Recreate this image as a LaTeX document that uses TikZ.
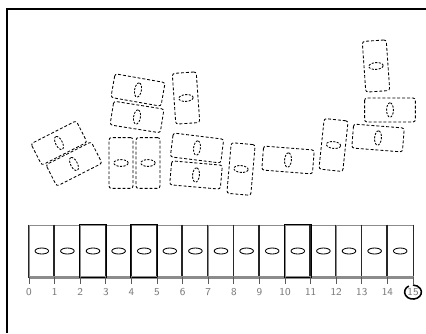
\documentclass[tikz,border=0pt]{standalone}
\usepackage{tikz}
\usetikzlibrary{shapes.geometric}
\definecolor{tilegray}{HTML}{8C8C8C}
\definecolor{numgray}{HTML}{7A7A7A}

\tikzset{
  dom/.style={draw, dash pattern=on 2.1pt off 1.4pt, rounded corners=0.6mm,
    minimum width=6mm, minimum height=12.7mm, inner sep=0pt, line width=0.6pt},
  doval/.style={ellipse, draw, dash pattern=on 1.5pt off 1pt,
    minimum width=3.6mm, minimum height=1.7mm, inner sep=0pt, line width=0.6pt},
  tile/.style={draw=tilegray, fill=white, minimum width=6.4mm, minimum height=13mm,
    inner sep=0pt, line width=0.7pt},
  oval/.style={ellipse, draw, minimum width=3.4mm, minimum height=1.5mm,
    inner sep=0pt, line width=0.6pt},
  num/.style={text=numgray, font=\fontsize{7.5}{8}\selectfont\sffamily, inner sep=0pt},
}

\begin{document}
\begin{tikzpicture}[x=0.25mm, y=-0.25mm]
  \useasboundingbox (0,0) rectangle (426,333);
  % frame
  \draw[line width=0.9pt] (7,333) -- (7,9) -- (426,9);

  % loose pieces
  \foreach \x/\y/\r/\n in {138/90/80/dA, 137/117/81/dB, 186/98/4/dC,
      59/143/117/dD, 74/164/117/dE, 121/163/0/dF, 148/163/0/dG,
      197/148/83/dH, 196/175/85/dI, 241/169/-5/dJ, 288/160/85.5/dK,
      333.5/145/-6/dL, 378/138/85.5/dM, 390/110/90/dN, 376/66/4/dO} {
    \node[dom, rotate=\r] (\n) at (\x,\y) {};
    \node[doval, rotate=\r] at (\n.center) {};
  }

  % row of tiles
  \foreach \i in {0,...,14} {
    \node[tile] (b\i) at ({41.8+25.6*\i},251) {};
    \node[oval] (o\i) at (b\i.center) {};
    \draw[black!85, line width=0.9pt] (b\i.north west) -- (b\i.south west);
  }
  \draw[black!85, line width=0.9pt] (b14.north east) -- (b14.south east);
  \draw[tilegray, line width=1.5pt] (b0.south west) -- (b14.south east);
  \foreach \i in {2,4,10}
    \draw[line width=0.6pt] (b\i.south west) rectangle (b\i.north east);

  % number line
  \foreach \i in {0,...,15} {
    \draw[black!65, line width=0.5pt] ({29+25.6*\i},277) -- ++(0,7);
    \node[num] (n\i) at ({29+25.6*\i},292) {\i};
  }
  \draw[line width=1.1pt] ([xshift=-1.05mm, yshift=1.5mm]n15.center)
    arc[start angle=120, end angle=450, x radius=2.1mm, y radius=1.75mm];
\end{tikzpicture}
\end{document}
